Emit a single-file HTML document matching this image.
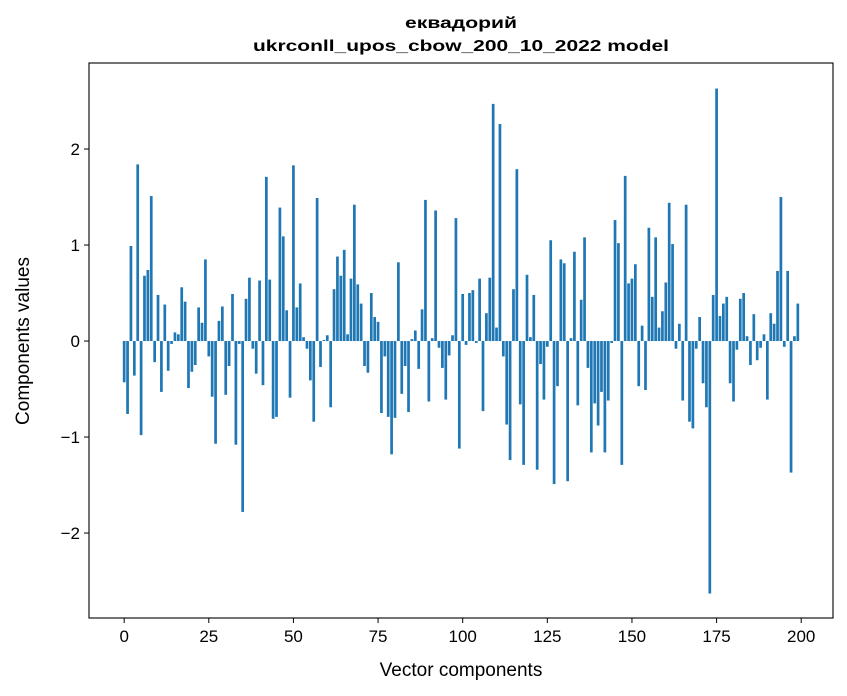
<!DOCTYPE html>
<html><head><meta charset="utf-8"><style>
html,body{margin:0;padding:0;background:#fff;}
svg{display:block;font-family:"Liberation Sans","DejaVu Sans",sans-serif;}
</style></head><body>
<svg id="chart" width="847" height="696" viewBox="0 0 847 696" xmlns="http://www.w3.org/2000/svg">
<rect x="0" y="0" width="847" height="696" fill="#fff"/>
<text x="461" y="28" text-anchor="middle" font-size="16" font-weight="bold" textLength="112" lengthAdjust="spacingAndGlyphs">еквадорий</text>
<text x="461" y="51" text-anchor="middle" font-size="16" font-weight="bold" textLength="416" lengthAdjust="spacingAndGlyphs">ukrconll_upos_cbow_200_10_2022 model</text>
<g id="bars"></g>
<g id="xticks"></g>
<g id="yticks"></g>
<rect x="89" y="63" width="744" height="555" fill="none" stroke="#000" stroke-width="1.1"/>
<text x="461" y="676" text-anchor="middle" font-size="19">Vector components</text>
<text transform="translate(29,341) rotate(-90)" text-anchor="middle" font-size="19">Components values</text>
</svg>
<script>
const values = [
-0.43,-0.76,0.99,-0.36,1.84,-0.98,0.68,0.74,1.51,-0.22,
0.48,-0.53,0.38,-0.31,-0.03,0.09,0.07,0.56,0.41,-0.49,
-0.32,-0.25,0.35,0.19,0.85,-0.16,-0.58,-1.07,0.21,0.36,
-0.56,-0.26,0.49,-1.08,-0.03,-1.78,0.44,0.66,-0.08,-0.34,
0.63,-0.46,1.71,0.64,-0.81,-0.79,1.39,1.09,0.32,-0.59,
1.83,0.35,0.60,0.04,-0.08,-0.41,-0.84,1.49,-0.27,0.01,
0.06,-0.69,0.54,0.88,0.68,0.95,0.07,0.65,1.42,0.59,
0.39,-0.26,-0.33,0.50,0.25,0.20,-0.75,-0.16,-0.79,-1.18,
-0.80,0.82,-0.55,-0.26,-0.74,0.02,0.11,-0.29,0.33,1.47,
-0.63,0.03,1.36,-0.07,-0.28,-0.61,-0.15,0.06,1.28,-1.12,
0.49,-0.04,0.50,0.53,-0.02,0.65,-0.73,0.29,0.66,2.47,
0.14,2.26,-0.16,-0.87,-1.24,0.54,1.79,-0.66,-1.29,0.69,
0.04,0.48,-1.34,-0.24,-0.61,-0.06,1.05,-1.49,-0.47,0.85,
0.81,-1.46,0.03,0.93,-0.67,0.43,1.08,-0.28,-1.16,-0.65,
-0.88,-0.53,-1.16,-0.62,-0.02,1.26,1.02,-1.29,1.72,0.60,
0.65,0.80,-0.47,0.16,-0.51,1.18,0.46,1.08,0.14,0.31,
0.61,1.44,1.01,-0.08,0.18,-0.62,1.42,-0.84,-0.91,-0.08,
0.25,-0.44,-0.69,-2.63,0.48,2.63,0.26,0.39,0.46,-0.44,
-0.63,-0.09,0.44,0.50,0.05,-0.25,0.28,-0.20,-0.07,0.07,
-0.61,0.29,0.18,0.73,1.50,-0.06,0.73,-1.37,0.05,0.39
];
const xTickValues = [0,25,50,75,100,125,150,175,200];
const yTickValues = [-2,-1,0,1,2];
const yTickLabels = ["\u22122","\u22121","0","1","2"];

const NS = "http://www.w3.org/2000/svg";
const plot = {left:89, right:833, top:63, bottom:618};
const xMin = -10.39, xMax = 209.39;
const yMin = -2.885, yMax = 2.896;
function xScale(v){ return plot.left + (v - xMin) / (xMax - xMin) * (plot.right - plot.left); }
function yScale(v){ return plot.bottom - (v - yMin) / (yMax - yMin) * (plot.bottom - plot.top); }

const barsG = document.getElementById('bars');
const bw = xScale(0.4) - xScale(-0.4);
values.forEach((v, i) => {
  const r = document.createElementNS(NS, 'rect');
  
  
  const y0 = yScale(0), y1 = yScale(v);
  r.setAttribute('x', xScale(i) - bw / 2);
  r.setAttribute('y', Math.min(y0, y1));
  r.setAttribute('width', bw);
  r.setAttribute('height', Math.abs(y1 - y0));
  r.setAttribute('fill', '#1f77b4');
  barsG.appendChild(r);
});

const xg = document.getElementById('xticks');
xTickValues.forEach(t => {
  const x = xScale(t);
  const l = document.createElementNS(NS, 'line');
  
  
  l.setAttribute('x1', x); l.setAttribute('x2', x);
  l.setAttribute('y1', plot.bottom); l.setAttribute('y2', plot.bottom + 5);
  l.setAttribute('stroke', '#000');
  xg.appendChild(l);
  const tx = document.createElementNS(NS, 'text');
  
  
  tx.setAttribute('x', x); tx.setAttribute('y', plot.bottom + 24);
  tx.setAttribute('text-anchor', 'middle');
  tx.setAttribute('font-size', '17');
  tx.textContent = String(t);
  xg.appendChild(tx);
});

const yg = document.getElementById('yticks');
yTickValues.forEach((t, i) => {
  const y = yScale(t);
  const l = document.createElementNS(NS, 'line');
  
  
  l.setAttribute('x1', plot.left - 5); l.setAttribute('x2', plot.left);
  l.setAttribute('y1', y); l.setAttribute('y2', y);
  l.setAttribute('stroke', '#000');
  yg.appendChild(l);
  const tx = document.createElementNS(NS, 'text');
  
  
  tx.setAttribute('x', plot.left - 9); tx.setAttribute('y', y + 6);
  tx.setAttribute('text-anchor', 'end');
  tx.setAttribute('font-size', '17');
  tx.textContent = yTickLabels[i];
  yg.appendChild(tx);
});
</script>
</body></html>
